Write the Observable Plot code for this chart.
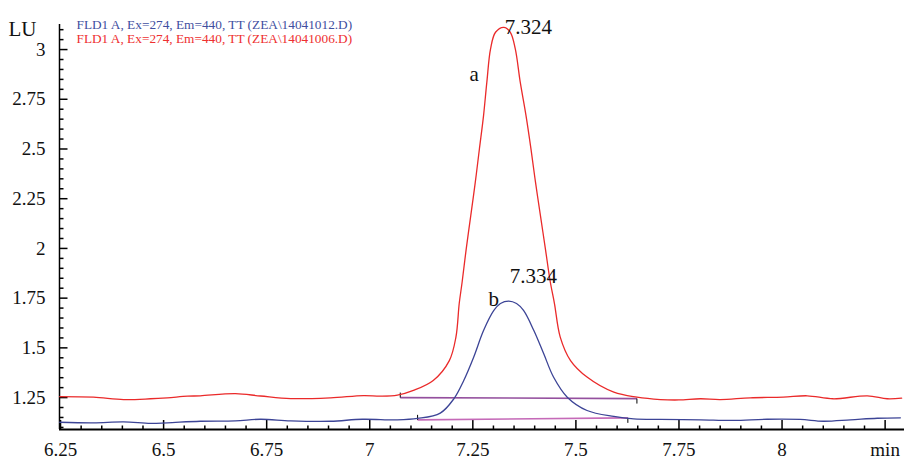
<!DOCTYPE html>
<html><head><meta charset="utf-8">
<script src="https://cdn.jsdelivr.net/npm/d3@7"></script>
<script src="https://cdn.jsdelivr.net/npm/@observablehq/plot@0.6"></script>
<style>body{margin:0;background:#fff} #chart{width:904px;height:459px} #chart svg text{font-family:'Liberation Serif','Times New Roman',serif}</style>
</head><body><div id="chart"></div>
<script>
// ---- data ----
const legendLabels = ["FLD1 A, Ex=274, Em=440, TT (ZEA\\14041012.D)", "FLD1 A, Ex=274, Em=440, TT (ZEA\\14041006.D)"];
const yUnit = "LU";

// red trace (a)
const redTime = [6.248,6.330,6.403,6.468,6.509,6.558,6.589,6.674,6.735,6.808,6.905,6.985,7.026,7.067,7.106,7.154,7.193,7.209,7.217,7.224,7.234,7.245,7.256,7.266,7.276,7.284,7.293,7.305,7.325,7.341,7.353,7.365,7.379,7.391,7.402,7.414,7.426,7.438,7.448,7.462,7.487,7.527,7.592,7.648,7.705,7.750,7.802,7.850,7.923,8.003,8.061,8.124,8.207,8.255,8.290];
const redSignal = [1.255,1.252,1.240,1.244,1.249,1.257,1.259,1.270,1.258,1.245,1.249,1.260,1.257,1.262,1.286,1.336,1.436,1.554,1.723,1.830,1.998,2.165,2.333,2.501,2.668,2.836,3.003,3.087,3.112,3.087,3.003,2.836,2.668,2.501,2.333,2.165,1.998,1.830,1.723,1.554,1.436,1.353,1.277,1.252,1.240,1.238,1.244,1.240,1.249,1.252,1.259,1.244,1.259,1.244,1.247];

// blue trace (b)
const blueTime = [6.248,6.330,6.403,6.468,6.509,6.589,6.674,6.735,6.808,6.905,6.982,7.067,7.116,7.171,7.204,7.228,7.252,7.276,7.301,7.317,7.337,7.356,7.373,7.398,7.422,7.446,7.479,7.527,7.592,7.640,7.705,7.802,7.882,7.964,8.044,8.100,8.166,8.231,8.287];
const blueSignal = [1.126,1.123,1.128,1.120,1.123,1.131,1.133,1.141,1.133,1.131,1.141,1.138,1.145,1.172,1.244,1.336,1.453,1.587,1.688,1.723,1.735,1.723,1.688,1.587,1.470,1.352,1.252,1.185,1.155,1.143,1.140,1.138,1.135,1.141,1.140,1.131,1.138,1.146,1.148];

// integration baselines (a, b)
const baseStartTime = [7.074, 7.116];
const baseStartSignal = [1.250, 1.138];
const baseEndTime = [7.648, 7.626];
const baseEndSignal = [1.245, 1.148];

// peak retention-time labels
const peakText = ["7.324", "7.334"];
const peakTime = [7.325, 7.337];
const peakSignal = [3.112, 1.735];

// peak names
const peakNames = ["a", "b"];
const nameTime = [7.253, 7.301];
const nameSignal = [2.878, 1.742];

// axes
const xTickValues = [6.25,6.5,6.75,7,7.25,7.5,7.75,8,8.25];
const xTickLabels = ["6.25","6.5","6.75","7","7.25","7.5","7.75","8","min"];
const yTickValues = [1.25,1.5,1.75,2,2.25,2.5,2.75,3];
const yTickLabels = ["1.25","1.5","1.75","2","2.25","2.5","2.75","3"];
const xDomain = [6.2475, 8.297];
const yDomain = [1.0895, 3.126];

// ---- build ----
const RED = "#ea2a2a", BLUE = "#3c4496";
const FONT = "'Liberation Serif','Times New Roman',serif";
const red = redTime.map((t, i) => ({t, v: redSignal[i]}));
const blue = blueTime.map((t, i) => ({t, v: blueSignal[i]}));
const bases = baseStartTime.map((t, i) => ({x1: t, y1: baseStartSignal[i], x2: baseEndTime[i], y2: baseEndSignal[i], c: i === 0 ? "#94509e" : "#c56ab8"}));
const starts = bases.map(b => ({x: b.x1, y: b.y1}));
const ends = bases.map(b => ({x: b.x2, y: b.y2}));
const peaks = peakText.map((s, i) => ({s, x: peakTime[i], y: peakSignal[i]}));
const names = peakNames.map((s, i) => ({s, x: nameTime[i], y: nameSignal[i]}));
const xLab = new Map(xTickValues.map((v, i) => [v, xTickLabels[i]]));
const yLab = new Map(yTickValues.map((v, i) => [v, yTickLabels[i]]));
const xMinor = d3.range(0, 41).filter(i => i % 5 !== 0).map(i => 6.25 + i * 0.05);
const yMinor = d3.range(22, 63).filter(i => i % 5 !== 0).map(i => i * 0.05);

const vSeg = (len) => ({draw(ctx) { ctx.moveTo(0, 0); ctx.lineTo(0, len); }});
const hSeg = (len) => ({draw(ctx) { ctx.moveTo(0, 0); ctx.lineTo(len, 0); }});

const chart = Plot.plot({
  width: 904, height: 459,
  marginLeft: 59, marginRight: 0, marginTop: 24, marginBottom: 30,
  style: {fontFamily: FONT, background: "#fff", overflow: "visible"},
  x: {domain: xDomain, label: null},
  y: {domain: yDomain, label: null},
  marks: [
    // axis ticks (pointing inward)
    Plot.dot(xMinor, {x: d => d, frameAnchor: "bottom", symbol: vSeg(-4), stroke: "#000", fill: "none", r: 3}),
    Plot.dot(xTickValues, {x: d => d, frameAnchor: "bottom", symbol: vSeg(-9.5), stroke: "#000", fill: "none", r: 3}),
    Plot.dot(yMinor, {y: d => d, frameAnchor: "left", symbol: hSeg(4), stroke: "#000", fill: "none", r: 3}),
    Plot.dot(yTickValues, {y: d => d, frameAnchor: "left", symbol: hSeg(8), stroke: "#000", fill: "none", r: 3}),
    // axis labels
    Plot.axisX(xTickValues, {anchor: "bottom", tickSize: 0, tickPadding: 13, tickFormat: d => xLab.get(d), label: null, fontSize: 19, fontFamily: FONT, fill: "#111"}),
    Plot.axisY(yTickValues, {anchor: "left", tickSize: 0, tickPadding: 14, tickFormat: d => yLab.get(d), label: null, fontSize: 19, fontFamily: FONT, fill: "#111"}),
    Plot.ruleX([xDomain[0]], {stroke: "#000", strokeWidth: 1.5}),
    Plot.ruleY([yDomain[0]], {stroke: "#000", strokeWidth: 2}),
    // integration baselines
    Plot.link(bases, {x1: "x1", y1: "y1", x2: "x2", y2: "y2", stroke: "c", strokeWidth: 1.6}),
    Plot.dot(starts, {x: "x", y: "y", symbol: vSeg(-5), stroke: "#000", fill: "none", strokeWidth: 1, r: 3}),
    Plot.dot(ends, {x: "x", y: "y", symbol: vSeg(5), stroke: "#000", fill: "none", strokeWidth: 1, r: 3}),
    // traces
    Plot.line(blue, {x: "t", y: "v", stroke: BLUE, strokeWidth: 1.3, curve: "catmull-rom"}),
    Plot.line(red, {x: "t", y: "v", stroke: RED, strokeWidth: 1.3, curve: "catmull-rom"}),
    // annotations
    Plot.text(peaks.slice(0, 1), {x: "x", y: "y", text: "s", textAnchor: "start", dx: 1, fontSize: 21, fontFamily: FONT, fill: "#111"}),
    Plot.text(peaks.slice(1), {x: "x", y: "y", text: "s", dy: -25, textAnchor: "start", dx: 1, fontSize: 21, fontFamily: FONT, fill: "#111"}),
    Plot.text(names, {x: "x", y: "y", text: "s", textAnchor: "middle", fontSize: 21, fontFamily: FONT, fill: "#111"}),
    Plot.text([yUnit], {text: d => d, frameAnchor: "top-left", textAnchor: "start", dx: -51, dy: -3, fontSize: 21, fontFamily: FONT, fill: "#111"}),
    Plot.text([legendLabels[0]], {text: d => d, frameAnchor: "top-left", textAnchor: "start", dx: 17, dy: -4.5, fontSize: 13.3, fontFamily: FONT, fill: "#3f4f9f"}),
    Plot.text([legendLabels[1]], {text: d => d, frameAnchor: "top-left", textAnchor: "start", dx: 17, dy: 9.5, fontSize: 13.3, fontFamily: FONT, fill: "#ee3030"})
  ]
});
document.getElementById("chart").appendChild(chart);
</script>
</body></html>
